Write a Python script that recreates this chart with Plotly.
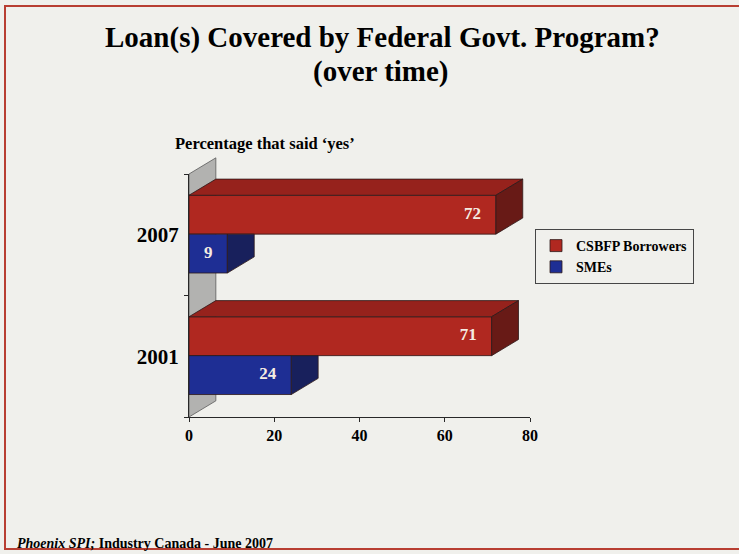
import plotly.graph_objects as go

# Survey data
years = ["2001", "2007"]
csbfp = [71, 72]   # CSBFP Borrowers, % saying yes
smes = [24, 9]     # SMEs, % saying yes
series_names = ["CSBFP Borrowers", "SMEs"]
x_ticks = [0, 20, 40, 60, 80]

# Styling / geometry
SERIF = "Liberation Serif, Times New Roman, serif"
BG = "rgb(240,240,236)"
RED_FRONT, RED_TOP, RED_SIDE = "rgb(176,40,32)", "rgb(150,34,28)", "rgb(104,26,22)"
BLUE_FRONT, BLUE_SIDE = "rgb(30,46,148)", "rgb(24,32,92)"
EDGE = "rgb(45,25,25)"
BAR_H = 0.32            # bar thickness in category units
RED_OFF, BLUE_OFF = 0.165, -0.155
DX, DY = 6.3, 0.133     # 3-D depth offset (x units, category units)
X_MAX = 80
Y_RANGE = [-0.5, 1.5]

cats = list(range(len(years)))
fig = go.Figure()

# Front faces of the bars
fig.add_trace(go.Bar(
    name=series_names[0], orientation="h", x=csbfp,
    y=[c + RED_OFF for c in cats], width=BAR_H,
    marker=dict(color=RED_FRONT, line=dict(color=EDGE, width=0.8)),
    hoverinfo="skip"))
fig.add_trace(go.Bar(
    name=series_names[1], orientation="h", x=smes,
    y=[c + BLUE_OFF for c in cats], width=BAR_H,
    marker=dict(color=BLUE_FRONT, line=dict(color=EDGE, width=0.8)),
    hoverinfo="skip"))


def face(xs, ys, color):
    fig.add_trace(go.Scatter(
        x=xs + [xs[0]], y=ys + [ys[0]], mode="lines", fill="toself",
        fillcolor=color, line=dict(color=EDGE, width=0.8),
        hoverinfo="skip", showlegend=False))


h = BAR_H / 2
# Depth faces of the lower (blue) bars: side only, clipped by the red bar above
for c, v in zip(cats, smes):
    y0 = c + BLUE_OFF
    face([v, v, v + DX, v + DX], [y0 - h, y0 + h, y0 + h, y0 - h + DY], BLUE_SIDE)

# Depth faces of the red bars: top and side
for c, v in zip(cats, csbfp):
    y0 = c + RED_OFF
    face([0, v, v + DX, DX], [y0 + h, y0 + h, y0 + h + DY, y0 + h + DY], RED_TOP)
    face([v, v, v + DX, v + DX], [y0 - h, y0 + h, y0 + h + DY, y0 - h + DY], RED_SIDE)

# Value labels inside the bar ends
label_color = "rgb(245,236,226)"
fig.add_trace(go.Scatter(
    x=[v - 5.5 for v in csbfp] + [v - 5.5 if v > 12 else v / 2 for v in smes],
    y=[c + RED_OFF for c in cats] + [c + BLUE_OFF for c in cats],
    text=[str(v) for v in csbfp] + [str(v) for v in smes],
    mode="text", textfont=dict(family=SERIF, size=17, color=label_color, weight="bold"),
    hoverinfo="skip", showlegend=False))

# Grey back wall of the 3-D frame (paper coordinates so it can rise above the axes)
span_y = Y_RANGE[1] - Y_RANGE[0]
wx = DX / X_MAX
wy = DY / span_y
wall = f"M0,0 L0,1 L{wx},{1 + wy} L{wx},{wy} Z"

L, R, T, B = 189, 209, 174, 137
W, H = 739, 554
pw, ph = W - L - R, H - T - B


def px(x):  # horizontal pixel -> paper
    return (x - L) / pw


def py(y):  # vertical pixel (from top) -> paper
    return (H - B - y) / ph


def note(text, x, y, size, xanchor="center"):
    return dict(text=text, xref="paper", yref="paper", x=px(x), y=py(y),
                xanchor=xanchor, yanchor="middle", showarrow=False,
                font=dict(family=SERIF, size=size, color="black"))


fig.update_layout(
    width=W, height=H,
    margin=dict(l=L, r=R, t=T, b=B, pad=0),
    paper_bgcolor=BG, plot_bgcolor=BG,
    barmode="overlay",
    font=dict(family=SERIF, color="black"),
    xaxis=dict(range=[0, X_MAX], tickvals=x_ticks, showgrid=False, zeroline=False,
               showline=True, linecolor="rgb(40,40,40)", linewidth=1,
               ticks="outside", ticklen=4, tickcolor="rgb(40,40,40)",
               tickfont=dict(family=SERIF, size=16, color="black", weight="bold")),
    yaxis=dict(range=Y_RANGE, tickvals=cats, ticktext=years, showgrid=False,
               zeroline=False, showline=True, linecolor="rgb(40,40,40)", linewidth=1,
               ticks="", ticklabelstandoff=5,
               tickfont=dict(family=SERIF, size=21, color="black", weight="bold"),
               minor=dict(tickvals=[-0.5, 0.5, 1.5], ticks="outside", ticklen=4,
                          tickcolor="rgb(40,40,40)")),
    legend=dict(x=px(535), y=py(229), xanchor="left", yanchor="top",
                bgcolor=BG, bordercolor="rgb(70,70,70)", borderwidth=1,
                itemwidth=30, traceorder="normal",
                font=dict(family=SERIF, size=14, color="black", weight="bold")),
    shapes=[
        dict(type="path", path=wall, xref="paper", yref="paper", layer="below",
             fillcolor="rgb(178,178,176)", line=dict(color="rgb(90,90,90)", width=0.8)),
        dict(type="rect", xref="paper", yref="paper",
             x0=px(5), x1=px(760), y0=py(549), y1=py(6),
             line=dict(color="rgb(184,62,50)", width=2), fillcolor="rgba(0,0,0,0)"),
    ],
    annotations=[
        note("<b>Loan(s) Covered by Federal Govt. Program?</b>", 382, 37, 29),
        note("<b>(over time)</b>", 381, 71, 29),
        note("<b>Percentage that said ‘yes’</b>", 173, 143, 16.5, "left"),
        note("<b><i>Phoenix SPI;</i> Industry Canada - June 2007</b>", 15, 543, 14, "left"),
    ],
)

fig.write_html("out.html")
